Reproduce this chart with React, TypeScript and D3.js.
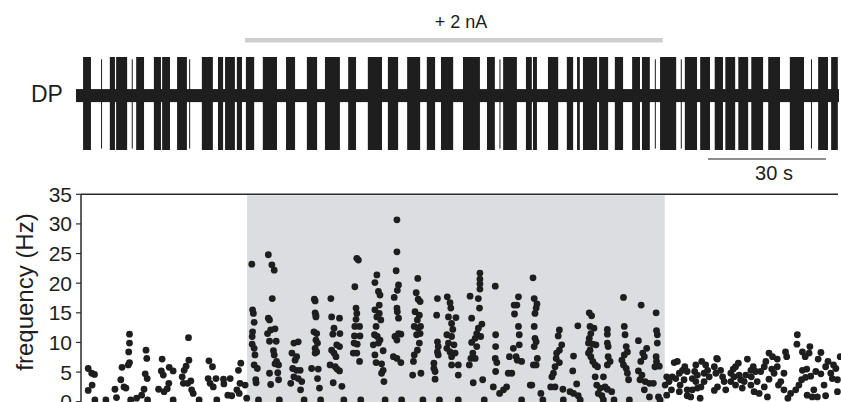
import React from 'react';
import * as d3 from 'd3';

// recording time (s) and stimulation window
const totalTime = 194;
const stimStart = 43.0;
const stimEnd = 149.2;
const scaleBarSec = 30;

// burst [start, end] in seconds
const bursts = [
  [1.8, 3.8], [8.6, 9.9], [10.2, 13.0], [15.3, 17.3], [19.8, 21.6], [21.9, 23.9],
  [25.7, 28.2], [32.0, 34.8], [36.1, 37.4], [37.9, 40.4], [40.9, 42.2], [43.2, 45.3],
  [47.5, 51.1], [53.4, 55.7], [58.7, 61.3], [63.3, 67.1], [69.2, 71.2], [74.2, 77.8],
  [79.3, 81.9], [84.2, 87.5], [89.2, 91.3], [92.8, 95.9], [98.4, 102.7], [104.5, 106.5],
  [108.6, 112.1], [114.4, 115.9], [116.2, 117.2], [120.0, 122.6], [124.8, 126.4],
  [127.4, 128.1], [128.9, 132.5], [133.0, 135.3], [137.0, 139.1], [141.4, 143.4],
  [143.9, 145.9], [148.5, 152.6], [154.8, 157.9], [158.7, 161.2], [162.4, 164.5],
  [165.1, 167.6], [168.4, 170.9], [171.7, 174.7], [176.0, 179.0], [181.5, 185.1],
  [188.7, 191.2], [192.0, 193.7],
];
// isolated spikes (s)
const singleSpikes = [6.5, 14.3, 28.9, 107.8, 147.3, 153.9, 187.0];

const yTicks = [0, 5, 10, 15, 20, 25, 30, 35];

// instantaneous frequency [time s, Hz]
const preDots = [
  [3.1, 5.6], [4.0, 4.8], [4.7, 4.6], [4.1, 2.8], [3.1, 1.9], [4.8, 0.3], [7.6, 0.3], [9.9, 2.1],
  [10.3, 0.7], [11.4, 3.7], [11.7, 5.8], [12.2, 2.5], [12.7, 2.3], [13.3, 6.2], [13.6, 11.4],
  [13.6, 9.9], [13.4, 8.4], [13.6, 6.6], [13.9, 0.3], [15.4, 0.6], [16.7, 1.1], [17.3, 2.1],
  [17.8, 8.7], [18.0, 7.3], [17.6, 4.7], [18.1, 3.9], [18.2, 0.3], [21.0, 2.1], [21.9, 7.2],
  [21.7, 5.2], [22.2, 4.5], [22.4, 1.7], [23.7, 5.8], [24.7, 5.2], [23.6, 3.1], [23.2, 2.2],
  [24.7, 0.3], [27.0, 4.2], [27.5, 5.3], [28.0, 6.0], [28.7, 7.0], [28.6, 10.8], [27.3, 3.1],
  [28.4, 3.1], [29.2, 3.5], [29.4, 2.0], [29.8, 1.4], [31.3, 0.3], [33.8, 6.9], [34.7, 5.9],
  [33.6, 3.9], [34.1, 3.1], [34.9, 2.5], [35.6, 3.9], [35.8, 0.3], [37.5, 3.8], [37.6, 3.0],
  [39.2, 3.9], [38.6, 1.1], [39.6, 1.0], [40.9, 2.0], [41.3, 5.3], [41.9, 6.5], [41.7, 3.1],
  [43.0, 2.8], [41.5, 1.4], [43.4, 0.6],
];

const stimDots = [
  [44.7, 23.2], [44.9, 15.5], [45.1, 14.9], [45.3, 13.4], [44.9, 11.8], [44.8, 11.0], [44.8, 9.7],
  [45.3, 9.0], [45.5, 7.9], [45.3, 6.2], [46.1, 5.6], [45.7, 3.7], [45.8, 3.2], [46.4, 0.3],
  [48.9, 24.8], [49.8, 23.1], [50.4, 22.2], [49.9, 17.4], [48.9, 14.1], [49.2, 13.8], [48.7, 11.5],
  [49.5, 12.1], [50.6, 12.3], [49.2, 10.2], [50.9, 10.2], [50.2, 8.6], [50.4, 7.9], [51.0, 6.8],
  [51.5, 6.2], [50.6, 6.4], [49.2, 4.8], [51.3, 4.9], [49.5, 2.9], [51.5, 3.7], [51.7, 0.3],
  [54.6, 3.1], [54.9, 8.2], [55.1, 5.6], [55.4, 9.9], [55.4, 4.2], [55.7, 7.0], [56.1, 7.6],
  [56.1, 5.3], [56.5, 10.1], [56.5, 3.9], [57.0, 5.3], [57.1, 2.0], [57.4, 3.4], [58.0, 0.3],
  [60.6, 17.3], [60.8, 17.0], [60.8, 15.0], [61.0, 14.6], [61.0, 14.3], [60.5, 11.8], [61.2, 11.5],
  [61.0, 10.4], [61.4, 9.9], [60.8, 9.0], [61.2, 8.4], [60.8, 8.2], [59.9, 5.6], [61.6, 5.5],
  [61.4, 3.9], [61.9, 2.3], [62.2, 0.3],
  [64.8, 17.4], [65.0, 14.3], [67.0, 14.1], [65.6, 12.4], [65.3, 11.4], [67.1, 11.5], [66.3, 9.6],
  [67.0, 9.3], [65.0, 8.7], [65.6, 8.2], [66.1, 7.6], [64.6, 6.2], [65.9, 5.9], [66.4, 5.5],
  [67.0, 5.2], [65.4, 3.2], [67.6, 2.6], [68.1, 0.3],
  [70.9, 19.4], [71.4, 24.2], [71.8, 23.9], [71.2, 15.8], [71.4, 14.9], [71.2, 13.9], [70.9, 12.7],
  [72.1, 12.7], [70.8, 11.1], [72.2, 11.1], [70.7, 9.9], [71.5, 9.7], [70.5, 8.2], [71.4, 8.2],
  [72.1, 6.8], [72.4, 0.3],
  [76.5, 21.4], [76.0, 20.1], [76.9, 18.6], [77.3, 18.0], [77.1, 16.3], [76.0, 15.5], [77.1, 14.9],
  [76.5, 14.3], [77.5, 13.8], [76.3, 12.7], [75.9, 11.3], [76.6, 11.0], [77.3, 10.4], [75.6, 9.6],
  [76.9, 9.9], [78.1, 8.6], [76.0, 7.9], [76.3, 6.6], [77.7, 6.4], [78.1, 5.3], [77.7, 4.8],
  [78.3, 3.4], [78.6, 0.3],
  [81.6, 30.7], [81.6, 25.3], [81.4, 22.1], [82.0, 19.7], [81.7, 18.8], [80.9, 17.6], [81.6, 15.8],
  [81.7, 15.2], [82.0, 14.1], [82.0, 11.5], [82.6, 11.4], [81.1, 11.0], [81.6, 10.4], [80.7, 7.6],
  [81.6, 7.3], [82.6, 6.6], [82.8, 0.3],
  [86.9, 20.8], [86.5, 18.4], [87.0, 17.3], [87.5, 16.9], [86.2, 15.2], [87.3, 14.6], [86.8, 13.8],
  [86.0, 12.7], [87.0, 12.4], [87.6, 12.7], [86.6, 11.3], [87.5, 11.5], [87.3, 9.9], [86.8, 8.7],
  [86.0, 7.9], [85.8, 6.8], [85.6, 4.5], [87.7, 4.8], [88.2, 0.3],
  [91.9, 17.4], [91.7, 14.6], [91.9, 10.1], [92.1, 9.3], [91.9, 8.4], [92.1, 7.9], [91.0, 6.5],
  [91.0, 5.6], [91.3, 5.1], [91.3, 3.8], [92.4, 0.3],
  [94.4, 17.7], [95.1, 16.7], [95.3, 15.8], [94.7, 14.3], [96.6, 14.2], [95.5, 13.2], [95.8, 12.2],
  [94.3, 11.3], [95.5, 11.0], [94.7, 9.9], [96.1, 9.6], [94.3, 9.0], [95.1, 8.4], [96.4, 8.2],
  [95.5, 7.6], [95.5, 6.2], [97.2, 6.2], [97.2, 4.5], [97.2, 0.3],
  [102.7, 21.7], [102.7, 20.7], [102.7, 19.9], [102.7, 19.0], [102.3, 17.4], [100.2, 17.8],
  [102.6, 15.8], [100.6, 14.1], [103.2, 13.1], [102.3, 12.4], [101.9, 11.5], [102.9, 11.0],
  [101.5, 10.7], [100.6, 10.0], [101.9, 9.3], [100.9, 8.2], [100.4, 7.3], [100.0, 6.2],
  [101.5, 7.3], [101.0, 3.2], [103.4, 3.7], [103.8, 0.3],
  [106.6, 19.5], [106.7, 11.3], [106.7, 9.3], [106.6, 7.3], [107.0, 6.6], [106.7, 5.1], [106.1, 2.5],
  [107.7, 1.4], [108.7, 2.0], [109.5, 2.5], [109.9, 4.8], [110.8, 4.8],
  [112.5, 17.7], [112.1, 16.3], [111.4, 16.3], [111.5, 14.8], [112.5, 12.7], [112.7, 11.3],
  [112.7, 9.6], [111.2, 9.0], [110.2, 7.6], [111.9, 7.6], [112.2, 7.0], [113.3, 6.8], [113.3, 0.3],
  [115.5, 2.8],
  [116.2, 20.9], [116.5, 17.4], [117.2, 16.5], [117.0, 15.8], [116.7, 14.9], [116.5, 12.7],
  [116.7, 10.7], [117.0, 10.1], [116.5, 9.3], [117.3, 7.3], [116.3, 6.2], [117.0, 6.2], [115.9, 2.8],
  [118.2, 1.4], [118.7, 0.3],
  [122.9, 12.1], [122.6, 11.1], [123.5, 9.6], [122.9, 8.7], [122.2, 8.2], [122.1, 7.3], [122.9, 6.6],
  [121.8, 5.9], [121.4, 4.8], [121.0, 4.2], [120.7, 2.5], [121.8, 2.5], [123.8, 2.1], [123.9, 0.3],
  [126.5, 7.7], [126.3, 5.2], [127.3, 3.0], [125.6, 1.7], [126.5, 1.4], [127.7, 1.0], [128.2, 0.3],
  [127.6, 12.8],
  [130.5, 15.0], [131.1, 14.5], [130.7, 12.7], [131.7, 12.4], [130.9, 11.5], [130.5, 10.7],
  [130.3, 9.9], [131.4, 9.7], [132.2, 9.6], [130.7, 8.7], [130.3, 8.2], [130.9, 7.6], [131.4, 6.8],
  [132.0, 6.2], [132.6, 5.9], [132.0, 4.2], [132.4, 2.8], [133.3, 2.3], [132.8, 1.4], [133.7, 1.0],
  [134.1, 0.3],
  [135.1, 12.2], [135.1, 11.4], [135.1, 9.9], [135.3, 9.3], [135.3, 7.6], [135.8, 6.8], [135.1, 6.2],
  [134.1, 4.2], [134.5, 2.5], [135.1, 2.1], [136.2, 1.7], [136.8, 0.3],
  [139.2, 17.6], [139.4, 12.7], [139.6, 11.3], [139.9, 9.3], [140.2, 8.4], [139.4, 7.9], [138.8, 7.0],
  [139.2, 6.2], [139.9, 5.6], [140.2, 4.8], [140.5, 3.7], [140.7, 0.3],
  [143.7, 16.3], [147.5, 15.0], [143.0, 10.3], [145.1, 9.0], [144.1, 8.2], [144.5, 7.6], [143.6, 6.8],
  [143.0, 5.2], [143.9, 4.5], [143.4, 3.7], [144.7, 3.4], [145.8, 3.1], [146.8, 3.1], [144.5, 2.0],
  [145.8, 0.8], [147.6, 12.0], [147.8, 11.3], [147.8, 9.9], [147.5, 7.6], [147.6, 6.8], [148.3, 6.0],
  [147.2, 5.9], [148.1, 0.8], [148.5, 0.3],
];

const postDots = [
  [149.8, 2.8], [150.2, 1.1], [150.2, 4.2], [150.8, 3.4], [151.4, 2.0], [151.6, 4.2], [152.1, 6.6],
  [152.5, 3.9], [152.9, 6.8], [153.4, 4.8], [153.4, 1.7], [153.6, 2.8], [154.2, 5.3], [154.6, 3.7],
  [154.8, 5.9], [155.4, 5.1], [155.4, 2.0], [155.4, 1.0], [156.3, 0.8], [156.7, 3.9], [156.7, 2.0],
  [157.3, 5.1], [157.6, 6.2], [157.6, 3.4], [158.0, 4.5], [158.0, 2.3], [158.7, 0.6], [158.9, 2.5],
  [159.1, 6.8], [159.7, 4.8], [159.7, 3.4], [160.1, 6.2], [160.6, 5.3], [161.0, 4.2], [162.3, 5.9],
  [162.3, 1.9], [162.7, 4.8], [162.9, 7.3], [163.1, 7.2], [163.1, 2.5], [163.9, 5.3], [164.4, 4.2],
  [164.8, 3.4], [165.2, 2.0], [166.5, 4.8], [166.5, 3.4], [167.1, 5.5], [167.3, 4.2], [167.7, 5.9],
  [167.7, 2.8], [168.4, 6.5], [168.6, 4.5], [169.0, 3.7], [169.4, 2.3], [169.9, 3.4], [170.3, 4.5],
  [170.7, 7.2], [171.6, 5.3], [171.6, 2.8], [171.7, 4.2], [172.2, 5.9], [172.4, 1.7], [172.8, 5.1],
  [173.2, 3.4], [173.7, 1.4], [174.1, 5.1], [175.0, 5.9], [175.0, 2.5], [175.4, 6.8], [175.8, 0.8],
  [176.2, 8.2], [176.2, 3.8], [176.9, 5.5], [177.1, 7.6], [177.5, 4.8], [178.3, 7.2], [178.3, 5.9],
  [178.6, 2.8], [179.2, 3.4], [180.0, 4.8], [180.0, 2.0], [180.4, 8.4], [180.7, 7.6], [181.0, 0.6],
  [181.7, 1.4], [183.0, 2.0], [183.3, 9.7], [183.4, 11.3], [183.8, 2.8], [184.5, 3.7], [184.7, 8.4],
  [184.7, 5.3], [185.4, 7.6], [185.5, 4.1], [185.8, 5.5], [185.9, 1.1], [186.4, 8.2], [186.6, 9.3],
  [186.8, 4.3], [187.2, 0.8], [187.6, 2.0], [188.1, 5.1], [188.5, 0.8], [188.7, 7.2], [189.4, 8.3],
  [189.4, 4.7], [190.2, 2.8], [190.6, 5.9], [190.6, 1.0], [191.2, 6.8], [191.9, 4.8], [192.3, 3.9],
  [192.6, 6.2], [193.2, 5.6], [193.6, 3.7], [193.6, 1.7], [194.3, 7.6],
];

const font = '"Liberation Sans", Arial, Helvetica, sans-serif';
const ink = '#1e1e1e';

export default function App() {
  const W = 841;
  const H = 402;

  const x = d3.scaleLinear().domain([0, totalTime]).range([76, 839]);
  const yF = d3.scaleLinear().domain([0, 35]).range([401.7, 194.3]);
  // normalised trace amplitude
  const yV = d3.scaleLinear().domain([-1, 1]).range([150, 57]);

  const allDots = [...preDots, ...stimDots, ...postDots];

  return (
    <svg
      width={W}
      height={H}
      style={{ position: 'absolute', left: 0, top: 0, background: '#fff' }}
      fontFamily={font}
    >
      {/* stimulus bar and label */}
      <text x={461} y={28} fontSize={18} textAnchor="middle" fill={ink}>
        + 2 nA
      </text>
      <rect x={x(stimStart)} y={38} width={x(stimEnd) - x(stimStart)} height={4.5} fill="#cdcecf" />

      {/* DP trace */}
      <text x={31} y={102} fontSize={23} fill={ink}>DP</text>
      <rect x={x(0)} y={yV(0.31)} width={x(totalTime) - x(0)} height={yV(0.03) - yV(0.31)} fill={ink} />
      {bursts.map(([a, b], i) => (
        <rect key={i} x={x(a)} y={yV(1)} width={Math.max(1, x(b) - x(a))} height={yV(-1) - yV(1)} fill={ink} />
      ))}
      {singleSpikes.map((t, i) => (
        <line key={i} x1={x(t)} x2={x(t)} y1={yV(0.95)} y2={yV(-0.97)} stroke={ink} strokeWidth={1} />
      ))}

      {/* scale bar */}
      <line x1={708} x2={708 + x(scaleBarSec) - x(0)} y1={159} y2={159} stroke={ink} strokeWidth={1.2} />
      <text x={708 + (x(scaleBarSec) - x(0)) / 2 + 7} y={180} fontSize={20} textAnchor="middle" fill={ink}>30 s</text>

      {/* frequency plot */}
      <rect x={x(stimStart) + 2} y={yF(35) + 1} width={x(stimEnd) - x(stimStart)} height={H} fill="#dcdde0" />
      <line x1={81} x2={838} y1={yF(35)} y2={yF(35)} stroke="#2a2a2a" strokeWidth={1.5} />
      <line x1={81} x2={81} y1={yF(35)} y2={H} stroke="#2a2a2a" strokeWidth={1.5} />
      {yTicks.map((v) => (
        <g key={v}>
          <line x1={76} x2={81} y1={yF(v)} y2={yF(v)} stroke="#2a2a2a" strokeWidth={1.2} />
          <text x={72} y={yF(v)} dy="0.36em" fontSize={21} textAnchor="end" fill={ink}>{v}</text>
        </g>
      ))}
      <text
        transform={`translate(33, ${(yF(35) + yF(0)) / 2 - 6}) rotate(-90)`}
        fontSize={24}
        textAnchor="middle"
        fill={ink}
      >
        frequency (Hz)
      </text>
      {allDots.map(([t, f], i) => (
        <circle key={i} cx={x(t)} cy={yF(f)} r={3.4} fill={ink} />
      ))}
    </svg>
  );
}
